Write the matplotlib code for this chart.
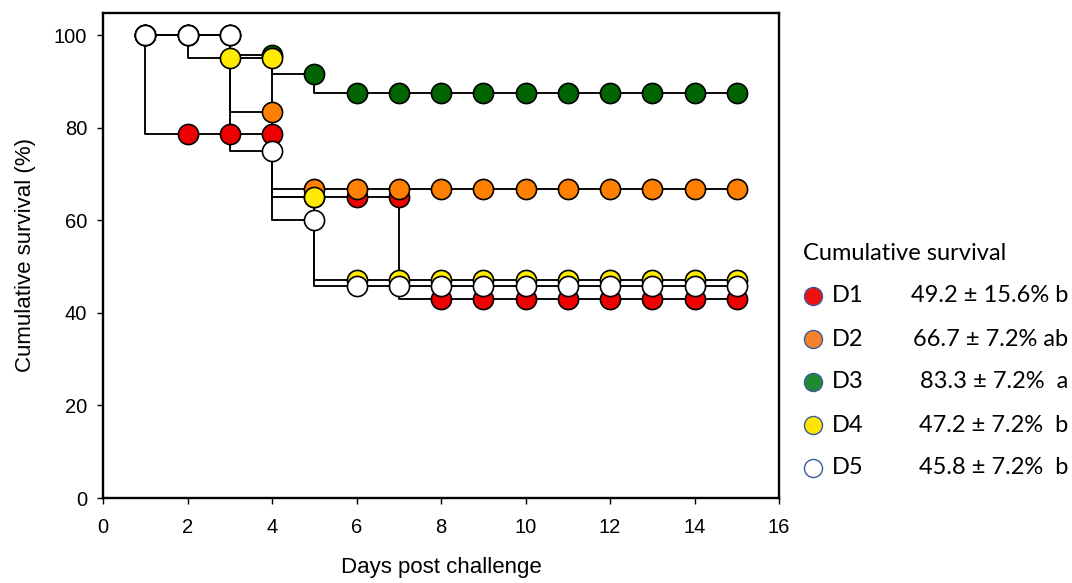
import matplotlib
matplotlib.use('Agg')
import matplotlib.pyplot as plt

# ---------------- data ----------------
days = list(range(1, 16))
d1 = [100, 78.6, 78.6, 78.6, 65.0, 65.0, 65.0, 42.9, 42.9, 42.9, 42.9, 42.9, 42.9, 42.9, 42.9]
d2 = [100, 100, 100, 83.3, 66.7, 66.7, 66.7, 66.7, 66.7, 66.7, 66.7, 66.7, 66.7, 66.7, 66.7]
d3 = [100, 100, 100, 95.8, 91.7, 87.5, 87.5, 87.5, 87.5, 87.5, 87.5, 87.5, 87.5, 87.5, 87.5]
d4 = [100, 100, 95.0, 95.0, 65.0, 47.2, 47.2, 47.2, 47.2, 47.2, 47.2, 47.2, 47.2, 47.2, 47.2]
d5 = [100, 100, 100, 75.0, 60.0, 45.8, 45.8, 45.8, 45.8, 45.8, 45.8, 45.8, 45.8, 45.8, 45.8]

groups = ["D1", "D2", "D3", "D4", "D5"]
series = [d1, d2, d3, d4, d5]
summary = ["49.2 \u00b1 15.6% b", "66.7 \u00b1 7.2% ab", "83.3 \u00b1 7.2%  a",
           "47.2 \u00b1 7.2%  b", "45.8 \u00b1 7.2%  b"]
legend_title = "Cumulative survival"

x_ticks = [0, 2, 4, 6, 8, 10, 12, 14, 16]
y_ticks = [0, 20, 40, 60, 80, 100]

plot_colors = ["#ee0000", "#ff8000", "#006400", "#ffea00", "#ffffff"]
legend_colors = ["#ee1111", "#f5822a", "#1e8a32", "#ffe600", "#ffffff"]

# ---------------- figure ----------------
W, H = 1072, 583
fig = plt.figure(figsize=(W / 100, H / 100), dpi=100)
ax = fig.add_axes([103 / W, (H - 498) / H, (779 - 103) / W, (498 - 13) / H])

for i, ys in enumerate(series):
    ax.plot(days, ys, drawstyle="steps-pre", color="black", lw=1.35, zorder=2)
for i, ys in enumerate(series):
    ax.plot(days, ys, ls="none", marker="o", ms=14.5, mfc=plot_colors[i],
            mec="black", mew=1.2, zorder=3 + i, clip_on=False)

ax.set_xlim(0, 16)
ax.set_ylim(0, 104.8)
ax.set_xticks(x_ticks)
ax.set_yticks(y_ticks)
for s in ax.spines.values():
    s.set_linewidth(1.7)
ax.tick_params(direction="out", length=4.5, width=1.0, labelsize=14.5,
               top=False, right=False)
ax.tick_params(axis="x", pad=10)
ax.tick_params(axis="y", pad=7)
for lab in ax.get_xticklabels() + ax.get_yticklabels():
    lab.set_family("Liberation Sans")
ax.set_xlabel("Days post challenge", fontsize=16, family="Liberation Sans", labelpad=14)
ax.set_ylabel("Cumulative survival (%)", fontsize=16, family="Liberation Sans", labelpad=13)

# ---------------- legend (manual) ----------------
lax = fig.add_axes([0, 0, 1, 1], facecolor="none")
lax.set_xlim(0, W)
lax.set_ylim(H, 0)
lax.axis("off")
lax.text(803, 253, legend_title, fontsize=17, family="Lato", va="center", ha="left")
row_y = [296, 339, 382, 425, 468]
for i, g in enumerate(groups):
    lax.plot([813], [row_y[i]], ls="none", marker="o", ms=13, mfc=legend_colors[i],
             mec="#3a5a98", mew=1.0)
    lax.text(832, row_y[i], g, fontsize=17, family="Lato", va="center", ha="left")
    lax.text(1068, row_y[i], summary[i], fontsize=17, family="Lato", va="center", ha="right")

fig.savefig("out.png", dpi=100)
